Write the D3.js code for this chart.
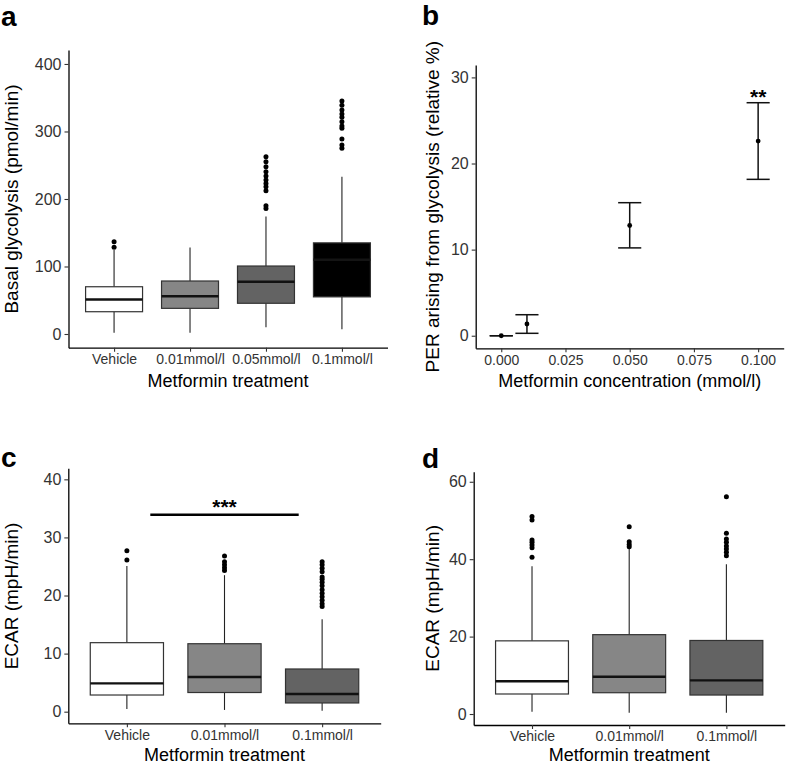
<!DOCTYPE html>
<html><head><meta charset="utf-8">
<script src="https://cdn.jsdelivr.net/npm/d3@7"></script>
<style>
body{margin:0;background:#fff}
svg{display:block;font-family:"Liberation Sans",Arial,Helvetica,sans-serif}
</style>
</head><body>
<svg id="chart" width="786" height="765"></svg>
<script>
// ---------- Panel a : basal glycolysis boxplots ----------
const catsA  = ["Vehicle","0.01mmol/l","0.05mmol/l","0.1mmol/l"];
const lowA   = [2, 2, 10, 7];
const q1A    = [33, 38, 45.5, 55];
const medA   = [51, 56, 77.5, 110];
const q3A    = [70, 78.5, 100.7, 135];
const highA  = [124.5, 128, 174, 233];
const outA   = [[128.4,136.8],[],[186,190,212.3,218,223,228,234,240.4,247.9,255.3,262.7],
                [275,280,289,304.7,308,314.5,321,326,332,339,345]];
const yTicksA = [0,100,200,300,400];

// ---------- Panel b : PER from glycolysis ----------
const concB  = [0, 0.01, 0.05, 0.1];
const meanB  = [0, 1.36, 12.8, 22.6];
const lowerB = [0, 0.28, 10.2, 18.16];
const upperB = [0, 2.44, 15.45, 27.06];
const xTicksB = [0, 0.025, 0.05, 0.075, 0.1];
const yTicksB = [0, 10, 20, 30];
const sigConcB  = [0.1];
const sigLabelB = ["**"];

// ---------- Panel c : ECAR boxplots ----------
const catsC  = ["Vehicle","0.01mmol/l","0.1mmol/l"];
const lowC   = [0.46, 0.3, 0.17];
const q1C    = [2.87, 3.3, 1.5];
const medC   = [4.88, 5.97, 3.05];
const q3C    = [11.88, 11.7, 7.35];
const highC  = [25.1, 23.5, 15.9];
const outC   = [[26.1,27.7],[24.3,24.8,25.3,25.8,26.8],
                [18.1,18.6,19.2,19.8,20.4,21.0,21.7,22.3,22.8,23.2,24.1,24.7,25.3,25.8]];
const yTicksC = [0,10,20,30,40];
const sigPairC  = [1, 3];
const sigYC     = 33.9;
const sigLabelC = "***";

// ---------- Panel d : ECAR boxplots ----------
const catsD  = ["Vehicle","0.01mmol/l","0.1mmol/l"];
const lowD   = [0.6, 0.34, 0.34];
const q1D    = [5.17, 5.5, 4.9];
const medD   = [8.45, 9.64, 8.7];
const q3D    = [18.9, 20.5, 19.0];
const highD  = [38.2, 42.6, 38.7];
const outD   = [[40.5,42.96,43.65,44.35,44.96,50.1,51.0],[43.2,43.8,44.5,48.4],
                [40.9,41.8,42.6,43.4,44.35,45.2,46.7,56.1]];
const yTicksD = [0,20,40,60];

// ---------- styling ----------
const FONT = '"Liberation Sans", Arial, Helvetica, sans-serif';
const fills4 = ["#ffffff","#868686","#636363","#000000"];
const fills3 = ["#ffffff","#868686","#636363"];

const svg = d3.select("#chart");

function styleAxis(sel, fs){
  sel.select(".domain").attr("stroke","#000").attr("stroke-width",1.3);
  sel.selectAll(".tick line").attr("stroke","#333").attr("stroke-width",1.1);
  sel.selectAll(".tick text").attr("fill","#333").attr("font-size",fs).attr("font-family",FONT);
}

function letter(txt, x, y){
  svg.append("text").attr("x",x).attr("y",y).text(txt)
    .attr("font-size",28).attr("font-weight","bold").attr("fill","#000");
}

function yTitle(txt, x, cy){
  svg.append("text").attr("transform",`translate(${x},${cy}) rotate(-90)`)
    .attr("text-anchor","middle").attr("font-size",19).attr("fill","#000").text(txt);
}
function xTitle(txt, cx, y){
  svg.append("text").attr("x",cx).attr("y",y).attr("text-anchor","middle")
    .attr("font-size",18).attr("fill","#000").text(txt);
}

function boxPanel(o){
  const n = o.cats.length;
  const x = d3.scaleLinear().domain([0.4, n + 0.6]).range([o.left, o.right]);
  const y = d3.scaleLinear().domain(o.yDomain).range([o.bottom, o.top]);
  const g = svg.append("g");
  const rows = o.cats.map((c,i)=>({i:i+1, c, low:o.low[i], q1:o.q1[i], med:o.med[i], q3:o.q3[i], high:o.high[i], out:o.out[i], fill:o.fills[i]}));
  const hw = 0.375;
  g.selectAll(".wu").data(rows).join("line")
    .attr("x1",d=>x(d.i)).attr("x2",d=>x(d.i)).attr("y1",d=>y(d.q3)).attr("y2",d=>y(d.high))
    .attr("stroke","#222").attr("stroke-width",1.1);
  g.selectAll(".wl").data(rows).join("line")
    .attr("x1",d=>x(d.i)).attr("x2",d=>x(d.i)).attr("y1",d=>y(d.q1)).attr("y2",d=>y(d.low))
    .attr("stroke","#222").attr("stroke-width",1.1);
  g.selectAll("rect.box").data(rows).join("rect").attr("class","box")
    .attr("x",d=>x(d.i-hw)).attr("width",d=>x(d.i+hw)-x(d.i-hw))
    .attr("y",d=>y(d.q3)).attr("height",d=>y(d.q1)-y(d.q3))
    .attr("fill",d=>d.fill).attr("stroke","#333").attr("stroke-width",1.2);
  g.selectAll("line.med").data(rows).join("line").attr("class","med")
    .attr("x1",d=>x(d.i-hw)).attr("x2",d=>x(d.i+hw)).attr("y1",d=>y(d.med)).attr("y2",d=>y(d.med))
    .attr("stroke",d=>d.fill==="#000000"?"#141414":"#111").attr("stroke-width",2.4);
  const pts = rows.flatMap(d=>d.out.map(v=>({i:d.i,v})));
  g.selectAll("circle.out").data(pts).join("circle").attr("class","out")
    .attr("cx",d=>x(d.i)).attr("cy",d=>y(d.v)).attr("r",2.5).attr("fill","#000");
  const ay = svg.append("g").attr("transform",`translate(${o.left},0)`)
    .call(d3.axisLeft(y).tickValues(o.yTicks).tickSize(4).tickPadding(3).tickSizeOuter(0));
  styleAxis(ay, 16);
  const ax = svg.append("g").attr("transform",`translate(0,${o.bottom})`)
    .call(d3.axisBottom(x).tickValues(d3.range(1,n+1)).tickFormat(i=>o.cats[i-1]).tickSize(4).tickPadding(2.5).tickSizeOuter(0));
  styleAxis(ax, 14);
  return {x,y};
}

// Panel a
boxPanel({cats:catsA, low:lowA, q1:q1A, med:medA, q3:q3A, high:highA, out:outA, fills:fills4,
  left:68.5, right:387.5, top:50, bottom:347.7, yDomain:[-20.3,420.7], yTicks:yTicksA});
letter("a", 1, 26);
yTitle("Basal glycolysis (pmol/min)", 18, 199);
xTitle("Metformin treatment", 228, 387);

// Panel b
(function(){
  const left=475.7, right=783.7, top=65, bottom=348.3;
  const x = d3.scaleLinear().domain([-0.00995, 0.10995]).range([left,right]);
  const y = d3.scaleLinear().domain([-1.46, 31.44]).range([bottom,top]);
  const g = svg.append("g");
  const rows = concB.map((c,i)=>({c, m:meanB[i], lo:lowerB[i], hi:upperB[i]}));
  const cap = 0.0045;
  g.selectAll(".v").data(rows).join("line")
    .attr("x1",d=>x(d.c)).attr("x2",d=>x(d.c)).attr("y1",d=>y(d.lo)).attr("y2",d=>y(d.hi))
    .attr("stroke","#111").attr("stroke-width",1.5);
  g.selectAll(".ct").data(rows).join("line")
    .attr("x1",d=>x(d.c-cap)).attr("x2",d=>x(d.c+cap)).attr("y1",d=>y(d.hi)).attr("y2",d=>y(d.hi))
    .attr("stroke","#111").attr("stroke-width",1.5);
  g.selectAll(".cb").data(rows).join("line")
    .attr("x1",d=>x(d.c-cap)).attr("x2",d=>x(d.c+cap)).attr("y1",d=>y(d.lo)).attr("y2",d=>y(d.lo))
    .attr("stroke","#111").attr("stroke-width",1.5);
  g.selectAll("circle").data(rows).join("circle")
    .attr("cx",d=>x(d.c)).attr("cy",d=>y(d.m)).attr("r",2.4).attr("fill","#000");
  sigConcB.forEach((c,k)=>{
    const i = concB.indexOf(c);
    g.append("text").attr("x",x(c)).attr("y",y(upperB[i])+1).attr("text-anchor","middle")
      .attr("font-size",21).attr("font-weight","bold").attr("fill","#000").text(sigLabelB[k]);
  });
  const ay = svg.append("g").attr("transform",`translate(${left},0)`)
    .call(d3.axisLeft(y).tickValues(yTicksB).tickSize(4).tickPadding(3).tickSizeOuter(0));
  styleAxis(ay, 16);
  const ax = svg.append("g").attr("transform",`translate(0,${bottom})`)
    .call(d3.axisBottom(x).tickValues(xTicksB).tickFormat(d3.format(".3f")).tickSize(4).tickPadding(2.5).tickSizeOuter(0));
  styleAxis(ax, 14);
})();
letter("b", 422, 25);
yTitle("PER arising from glycolysis (relative %)", 439, 206.7);
xTitle("Metformin concentration (mmol/l)", 629.7, 387);

// Panel c
const sc = boxPanel({cats:catsC, low:lowC, q1:q1C, med:medC, q3:q3C, high:highC, out:outC, fills:fills3,
  left:68.3, right:380.7, top:468.3, bottom:723.3, yDomain:[-2.0,41.9], yTicks:yTicksC});
svg.append("line").attr("x1",sc.x(sigPairC[0]+0.24)).attr("x2",sc.x(sigPairC[1]-0.24))
  .attr("y1",sc.y(sigYC)).attr("y2",sc.y(sigYC)).attr("stroke","#000").attr("stroke-width",2.4);
svg.append("text").attr("x",sc.x((sigPairC[0]+sigPairC[1])/2)).attr("y",sc.y(sigYC)-1)
  .attr("text-anchor","middle").attr("font-size",21).attr("font-weight","bold").attr("fill","#000").text(sigLabelC);
letter("c", 1, 467);
yTitle("ECAR (mpH/min)", 18, 596);
xTitle("Metformin treatment", 224.5, 761);

// Panel d
boxPanel({cats:catsD, low:lowD, q1:q1D, med:medD, q3:q3D, high:highD, out:outD, fills:fills3,
  left:473.7, right:784.7, top:471.7, bottom:725, yDomain:[-2.84,62.6], yTicks:yTicksD});
letter("d", 422, 468);
yTitle("ECAR (mpH/min)", 439, 598.4);
xTitle("Metformin treatment", 629.2, 761);
</script>
</body></html>
